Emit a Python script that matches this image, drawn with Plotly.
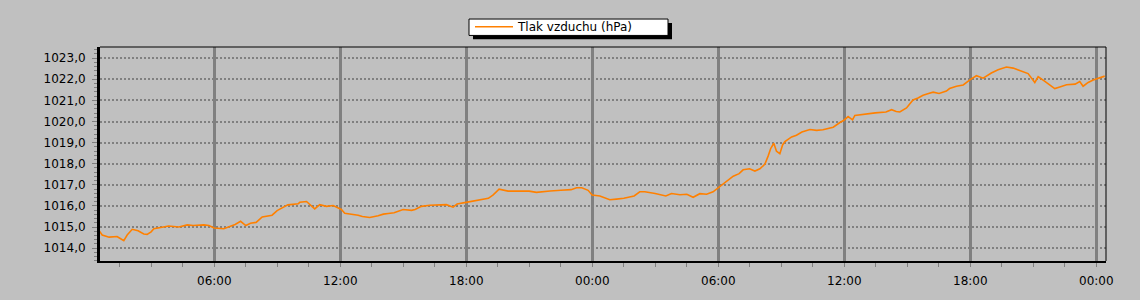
import pandas as pd
import plotly.graph_objects as go

# Hours since day-1 00:00 and air pressure readings (hPa)
hours = [0.5, 0.66, 0.99, 1.37, 1.5, 1.69, 1.85, 1.99, 2.09, 2.37, 2.64, 2.8, 2.99, 3.12, 3.5, 3.83,
         4.31, 4.71, 4.99, 5.5, 5.74, 5.99, 6.45, 6.77, 6.99, 7.25, 7.5, 7.72, 7.99, 8.28, 8.75, 8.99,
         9.31, 9.5, 9.99, 10.07, 10.39, 10.55, 10.78, 11.02, 11.34, 11.66, 11.82, 12.05, 12.21, 12.56,
         12.85, 13.05, 13.4, 13.8, 14.05, 14.28, 14.56, 14.99, 15.39, 15.56, 15.86, 16.26, 16.74, 17.05,
         17.37, 17.56, 18.05, 18.56, 19.05, 19.28, 19.56, 19.99, 20.5, 20.99, 21.34, 21.66, 21.99, 22.5,
         22.99, 23.25, 23.5, 23.8, 23.99, 24.36, 24.83, 25.15, 25.5, 25.99, 26.26, 26.5, 26.99, 27.5,
         27.77, 28.17, 28.5, 28.8, 29.12, 29.44, 29.75, 29.99, 30.31, 30.49, 30.71, 30.99, 31.18, 31.49,
         31.74, 31.98, 32.22, 32.37, 32.49, 32.64, 32.77, 32.93, 33.06, 33.17, 33.49, 33.72, 33.98, 34.36,
         34.68, 34.98, 35.47, 35.79, 35.98, 36.18, 36.39, 36.5, 36.98, 37.47, 37.98, 38.25, 38.47, 38.64,
         38.96, 39.27, 39.51, 39.75, 40.01, 40.23, 40.51, 40.86, 41.01, 41.34, 41.66, 42.01, 42.29, 42.61,
         43.0, 43.32, 43.72, 44.04, 44.35, 44.75, 45.07, 45.23, 45.5, 45.78, 46.02, 46.26, 46.58, 46.99,
         47.21, 47.37, 47.61, 47.85, 48.16, 48.4]
pressure = [1014.85, 1014.62, 1014.52, 1014.55, 1014.47, 1014.35, 1014.62, 1014.77, 1014.89, 1014.82,
            1014.67, 1014.65, 1014.77, 1014.92, 1015.0, 1015.05, 1015.0, 1015.1, 1015.07, 1015.1, 1015.07,
            1014.95, 1014.92, 1015.05, 1015.12, 1015.27, 1015.07, 1015.18, 1015.22, 1015.48, 1015.56,
            1015.78, 1015.95, 1016.05, 1016.1, 1016.17, 1016.21, 1016.06, 1015.86, 1016.06, 1015.98,
            1016.02, 1015.94, 1015.83, 1015.65, 1015.61, 1015.56, 1015.5, 1015.45, 1015.53, 1015.61,
            1015.64, 1015.68, 1015.83, 1015.79, 1015.83, 1015.98, 1016.03, 1016.03, 1016.06, 1015.94,
            1016.09, 1016.18, 1016.29, 1016.36, 1016.52, 1016.79, 1016.7, 1016.71, 1016.7, 1016.64,
            1016.68, 1016.71, 1016.74, 1016.77, 1016.86, 1016.86, 1016.74, 1016.52, 1016.47, 1016.29,
            1016.32, 1016.36, 1016.47, 1016.67, 1016.67, 1016.59, 1016.47, 1016.59, 1016.53, 1016.55,
            1016.41, 1016.58, 1016.55, 1016.67, 1016.85, 1017.11, 1017.26, 1017.41, 1017.53, 1017.71,
            1017.76, 1017.65, 1017.76, 1017.98, 1018.36, 1018.71, 1018.97, 1018.59, 1018.47, 1018.89,
            1019.05, 1019.27, 1019.35, 1019.5, 1019.62, 1019.58, 1019.61, 1019.73, 1019.95, 1020.06,
            1020.23, 1020.08, 1020.29, 1020.36, 1020.41, 1020.45, 1020.56, 1020.47, 1020.45, 1020.64,
            1021.02, 1021.11, 1021.24, 1021.33, 1021.39, 1021.33, 1021.44, 1021.56, 1021.67, 1021.73,
            1022.0, 1022.17, 1022.05, 1022.3, 1022.45, 1022.58, 1022.53, 1022.42, 1022.27, 1021.85,
            1022.12, 1021.94, 1021.74, 1021.56, 1021.64, 1021.74, 1021.77, 1021.89, 1021.67, 1021.85,
            1021.97, 1022.09, 1022.15]

series_name = "Tlak vzduchu (hPa)"
start = pd.Timestamp("2024-01-01 00:00")
times = start + pd.to_timedelta(hours, unit="h")

GRID = "#808080"
BG = "#C0C0C0"
FONT = "DejaVu Sans"

fig = go.Figure()
fig.add_trace(go.Scatter(x=times, y=pressure, mode="lines", name=series_name,
                         line=dict(color="#FF8000", width=1.6)))

# plot area in pixels: x 100..1106, y 44..266
L, R, T, B = 100, 1106, 44, 266
def px(x):
    return (x - L) / (R - L)
def py(y):
    return (B - y) / (B - T)

HOUR_MS = 3600 * 1000
fig.update_layout(
    width=1140, height=300,
    margin=dict(l=L, r=1140 - R, t=T, b=300 - B),
    paper_bgcolor=BG, plot_bgcolor=BG,
    separators=", ",
    showlegend=True,
    legend=dict(x=px(470), y=py(8), xanchor="left", yanchor="top",
                bgcolor="rgba(0,0,0,0)", borderwidth=0,
                font=dict(family=FONT, size=12, color="black"),
                orientation="h", itemwidth=38),
    xaxis=dict(type="date", range=[start + pd.Timedelta(hours=0.556), start + pd.Timedelta(hours=48.46)],
               tick0=start, dtick=6 * HOUR_MS, tickformat="%H:%M",
               showgrid=True, gridcolor=GRID, gridwidth=3,
               showline=True, linecolor="black", linewidth=2,
               ticks="outside", ticklen=4, tickcolor=GRID, tickwidth=1,
               minor=dict(dtick=1.5 * HOUR_MS, ticks="outside", ticklen=4, tickcolor=GRID,
                          tickwidth=1, showgrid=False),
               tickfont=dict(family=FONT, size=12, color="black"),
               zeroline=False, ticklabelstandoff=4),
    yaxis=dict(range=[1013.39, 1023.53], tick0=1014, dtick=1, tickformat=".1f",
               showgrid=True, gridcolor=GRID, gridwidth=2, griddash="2px,2px",
               showline=True, linecolor="black", linewidth=3,
               ticks="outside", ticklen=5, tickcolor=GRID, tickwidth=1,
               minor=dict(dtick=0.2, ticks="outside", ticklen=3, tickcolor=GRID,
                          tickwidth=1, showgrid=False),
               tickfont=dict(family=FONT, size=12, color="black"),
               zeroline=False, ticklabelstandoff=4),
    shapes=[
        dict(type="line", xref="paper", yref="paper", x0=0, x1=1, y0=1, y1=1,
             line=dict(color="black", width=1)),
        dict(type="line", xref="paper", yref="paper", x0=1, x1=1, y0=0, y1=1,
             line=dict(color="black", width=1)),
        # legend shadow and box
        dict(type="rect", xref="paper", yref="paper", x0=px(473), x1=px(672),
             y0=py(36), y1=py(19), fillcolor="black", line=dict(width=0), layer="above"),
        dict(type="rect", xref="paper", yref="paper", x0=px(469), x1=px(668),
             y0=py(32), y1=py(15), fillcolor="white", line=dict(color="black", width=1),
             layer="above"),
    ],
)

fig.write_html("out.html")
